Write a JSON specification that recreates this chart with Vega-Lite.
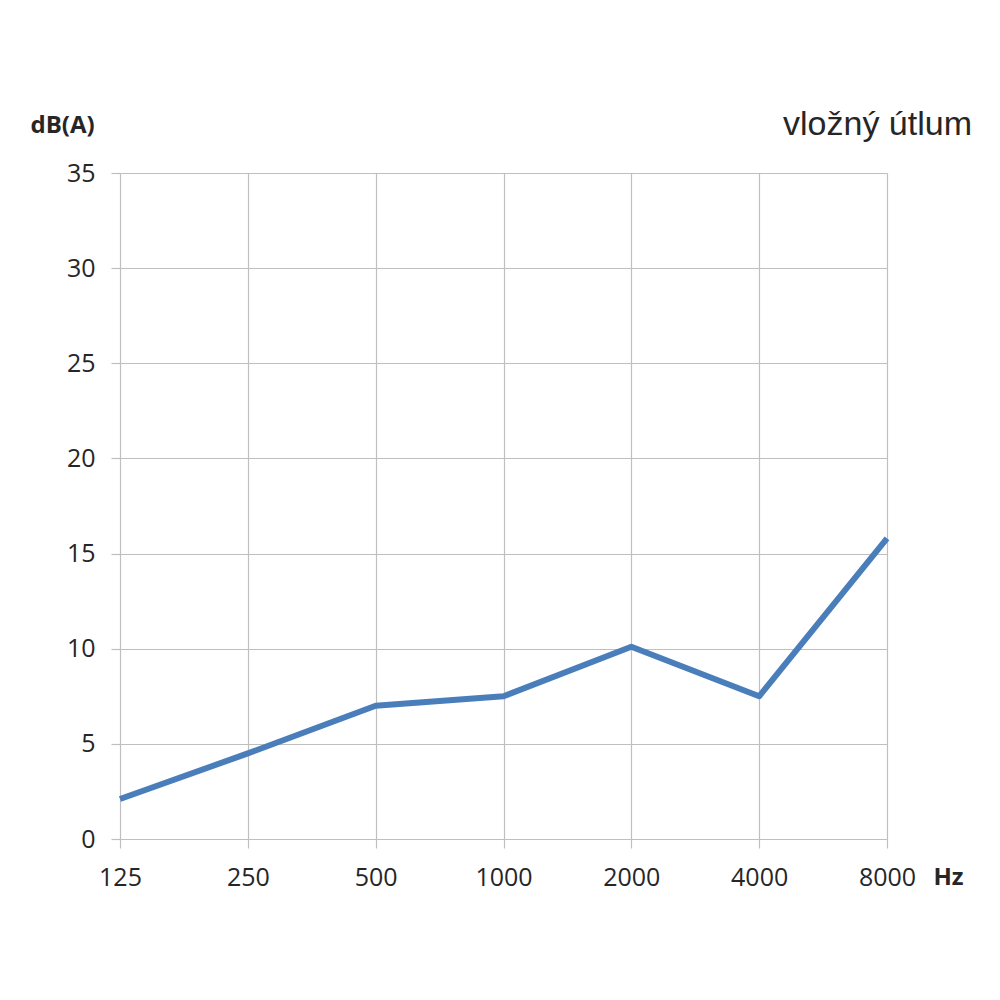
{
  "$schema": "https://vega.github.io/schema/vega-lite/v6.json",
  "width": 767,
  "height": 666,
  "autosize": {"type": "none"},
  "padding": {"left": 120, "top": 173, "right": 113, "bottom": 161},
  "background": "white",
  "title": {
    "text": "vložný útlum",
    "anchor": "end",
    "frame": "group",
    "orient": "top",
    "dx": 85,
    "dy": 63,
    "offset": 34,
    "font": "Liberation Sans",
    "fontSize": 34,
    "fontWeight": "normal",
    "color": "#262626"
  },
  "data": {
    "values": [
      {"f": "125", "db": 2.1},
      {"f": "250", "db": 4.5},
      {"f": "500", "db": 7.0},
      {"f": "1000", "db": 7.5},
      {"f": "2000", "db": 10.1},
      {"f": "4000", "db": 7.5},
      {"f": "8000", "db": 15.8}
    ]
  },
  "mark": {"type": "line", "color": "#4A7EBB", "strokeWidth": 6, "strokeCap": "butt", "strokeJoin": "round"},
  "encoding": {
    "x": {
      "field": "f",
      "type": "ordinal",
      "sort": null,
      "scale": {"type": "point", "padding": 0},
      "axis": {
        "title": "Hz",
        "titleX": 828,
        "titleY": 38,
        "titleAlign": "center",
        "titleBaseline": "middle",
        "titleFont": "Open Sans",
        "titleFontSize": 24,
        "titleFontWeight": "bold",
        "titleColor": "#262626",
        "labelAngle": 0,
        "labelFont": "Open Sans",
        "labelFontSize": 25,
        "labelColor": "#262626",
        "labelPadding": 17,
        "grid": true,
        "gridColor": "#BFBFBF",
        "gridWidth": 1.2,
        "domain": false,
        "ticks": true,
        "tickSize": 9,
        "tickColor": "#BFBFBF",
        "tickWidth": 1.2
      }
    },
    "y": {
      "field": "db",
      "type": "quantitative",
      "scale": {"domain": [0, 35], "nice": false},
      "axis": {
        "values": [0, 5, 10, 15, 20, 25, 30, 35],
        "title": "dB(A)",
        "titleAngle": 0,
        "titleX": -58,
        "titleY": -48,
        "titleAlign": "center",
        "titleBaseline": "middle",
        "titleFont": "Open Sans",
        "titleFontSize": 24,
        "titleFontWeight": "bold",
        "titleColor": "#262626",
        "labelFont": "Open Sans",
        "labelFontSize": 25,
        "labelColor": "#262626",
        "labelPadding": 16,
        "grid": true,
        "gridColor": "#BFBFBF",
        "gridWidth": 1.2,
        "domain": false,
        "ticks": true,
        "tickSize": 9,
        "tickColor": "#BFBFBF",
        "tickWidth": 1.2
      }
    }
  },
  "config": {"view": {"stroke": null}}
}
